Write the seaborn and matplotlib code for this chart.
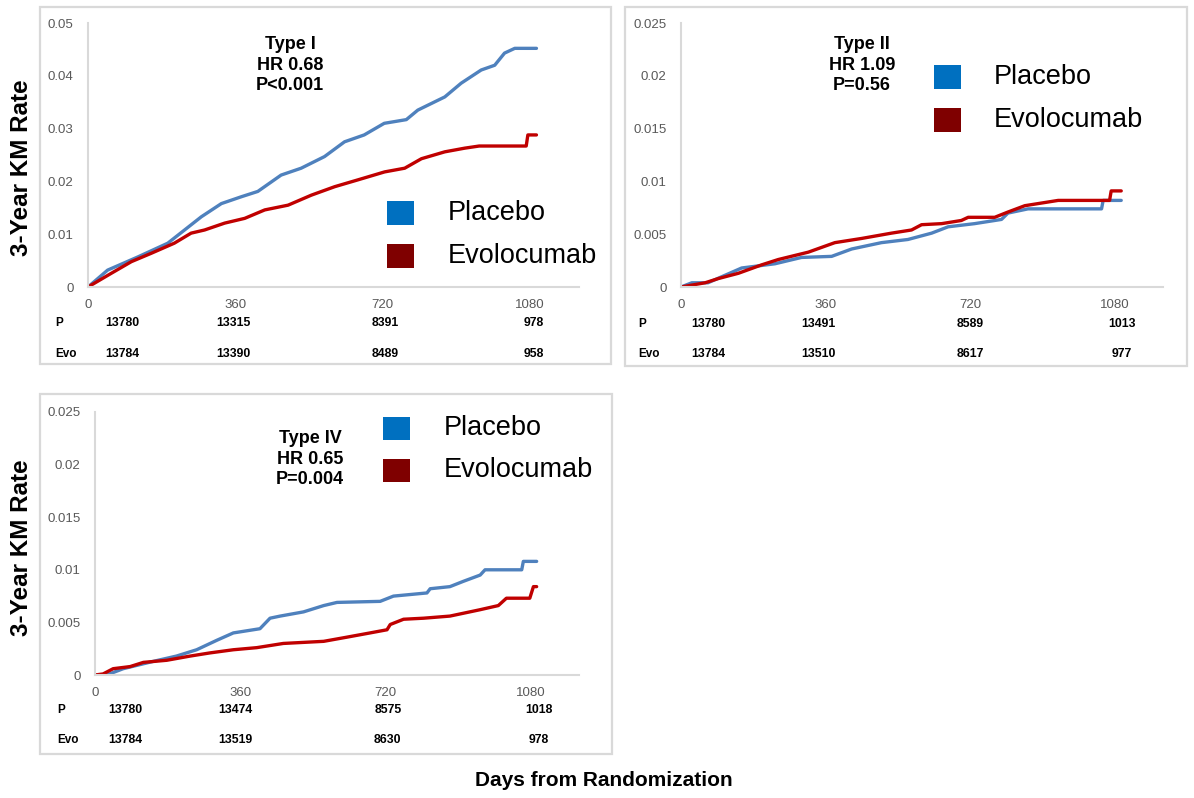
"""Cumulative 3-year KM event rates by MI type, placebo vs evolocumab"""
import matplotlib
matplotlib.use("Agg")
import matplotlib.pyplot as plt
from matplotlib.patches import Rectangle
import pandas as pd
import seaborn as sns

# ---- data ----
arms = ["Placebo", "Evolocumab"]
x_ticks = [0, 360, 720, 1080]

t1_days_pbo = [0, 48, 122, 195, 236, 277, 326, 375, 415, 472, 521, 578, 627, 675,
               724, 778, 806, 872, 912, 961, 994, 1018, 1043, 1096]
t1_rate_pbo = [0, .0032, .0057, .0083, .0108, .0133, .0158, .0171, .0181, .0212,
               .0225, .0247, .0275, .0288, .0310, .0317, .0335, .0360, .0386, .0411,
               .0420, .0443, .0452, .0452]
t1_days_evo = [0, 57, 106, 155, 211, 252, 285, 334, 383, 432, 489, 546, 603, 660,
               725, 774, 815, 872, 921, 956, 1071, 1075, 1096]
t1_rate_evo = [0, .0026, .0048, .0064, .0083, .0102, .0108, .0121, .0130, .0146,
               .0155, .0174, .0190, .0203, .0218, .0225, .0243, .0256, .0263, .0267,
               .0267, .0288, .0288]

t2_days_pbo = [0, 27, 67, 151, 234, 300, 375, 425, 499, 565, 624, 665, 731, 798,
               814, 864, 1047, 1051, 1096]
t2_rate_pbo = [0, .0004, .0004, .0018, .0022, .0028, .0029, .0036, .0042, .0045,
               .0051, .0057, .0060, .0064, .0070, .0074, .0074, .0082, .0082]
t2_days_evo = [0, 60, 93, 143, 201, 242, 317, 383, 450, 524, 574, 599, 649, 698,
               715, 781, 814, 856, 939, 1067, 1071, 1096]
t2_rate_evo = [0, .0004, .0008, .0013, .0021, .0026, .0033, .0042, .0046, .0051,
               .0054, .0059, .0060, .0063, .0066, .0066, .0071, .0077, .0082, .0082,
               .0091, .0091]

t4_days_pbo = [0, 29, 70, 145, 202, 252, 302, 343, 409, 434, 459, 517, 567, 600,
               707, 740, 823, 831, 880, 913, 955, 967, 1058, 1062, 1095]
t4_rate_pbo = [0, 0, .0006, .0013, .0018, .0024, .0033, .0040, .0044, .0054, .0056,
               .0060, .0066, .0069, .0070, .0075, .0078, .0082, .0084, .0089, .0095,
               .0100, .0100, .0108, .0108]
t4_days_evo = [0, 20, 45, 87, 120, 178, 236, 285, 343, 401, 467, 567, 625, 682,
               724, 732, 765, 815, 880, 954, 1000, 1020, 1078, 1087, 1095]
t4_rate_evo = [0, .0001, .0006, .0008, .0012, .0014, .0018, .0021, .0024, .0026,
               .0030, .0032, .0036, .0040, .0043, .0048, .0053, .0054, .0056, .0062,
               .0066, .0073, .0073, .0084, .0084]

t1_risk_pbo = [13780, 13315, 8391, 978]
t1_risk_evo = [13784, 13390, 8489, 958]
t2_risk_pbo = [13780, 13491, 8589, 1013]
t2_risk_evo = [13784, 13510, 8617, 977]
t4_risk_pbo = [13780, 13474, 8575, 1018]
t4_risk_evo = [13784, 13519, 8630, 978]

t1_yticks = [0, 0.01, 0.02, 0.03, 0.04, 0.05]
t1_ylabels = ["0", "0.01", "0.02", "0.03", "0.04", "0.05"]
t24_yticks = [0, 0.005, 0.01, 0.015, 0.02, 0.025]
t24_ylabels = ["0", "0.005", "0.01", "0.015", "0.02", "0.025"]

t1_title = "Type I\nHR 0.68\nP<0.001"
t2_title = "Type II\nHR 1.09\nP=0.56"
t4_title = "Type IV\nHR 0.65\nP=0.004"

LINE_COLORS = {"Placebo": "#4F81BD", "Evolocumab": "#C00000"}
LEGEND_COLORS = {"Placebo": "#0070C0", "Evolocumab": "#7F0000"}

W, H = 1194, 798


def fx(x):
    return x / W


def fy(y):
    return 1 - y / H


def px_axes(fig, left, top, right, bottom):
    return fig.add_axes([fx(left), fy(bottom), (right - left) / W, (bottom - top) / H])


def km_frame(days_pbo, rate_pbo, days_evo, rate_evo):
    a = pd.DataFrame({"day": days_pbo, "rate": rate_pbo, "arm": arms[0]})
    b = pd.DataFrame({"day": days_evo, "rate": rate_evo, "arm": arms[1]})
    return pd.concat([a, b], ignore_index=True)


def draw_panel(fig, box, axbox, df, yticks, ylabels, risk_p, risk_e, risk_x,
               row_x, rows_y, title, title_xy, leg):
    """one boxed KM panel with its at-risk table and square legend"""
    l, t, r, b = box
    fig.add_artist(Rectangle((fx(l), fy(b)), (r - l) / W, (b - t) / H,
                             transform=fig.transFigure, fill=False,
                             edgecolor="#d9d9d9", lw=1.6))
    ax = px_axes(fig, *axbox)
    sns.lineplot(data=df, x="day", y="rate", hue="arm", hue_order=arms,
                 palette=LINE_COLORS, estimator=None, sort=False, lw=2.4,
                 legend=False, ax=ax)
    ax.set_xlim(0, 1200)
    ax.set_ylim(0, yticks[-1])
    ax.set_xticks(x_ticks)
    ax.set_xticklabels([str(v) for v in x_ticks])
    ax.set_yticks(yticks)
    ax.set_yticklabels(ylabels)
    ax.set_xlabel("")
    ax.set_ylabel("")
    for s in ["top", "right"]:
        ax.spines[s].set_visible(False)
    for s in ["left", "bottom"]:
        ax.spines[s].set_color("#d9d9d9")
        ax.spines[s].set_linewidth(1.5)
    ax.tick_params(axis="both", length=0, labelsize=9.5, labelcolor="#595959")
    ax.tick_params(axis="y", pad=10.5)
    ax.tick_params(axis="x", pad=9)
    ax.patch.set_alpha(0)

    # at-risk table
    height = axbox[3] - axbox[1]
    for lab, vals, y in [("P", risk_p, rows_y[0]), ("Evo", risk_e, rows_y[1])]:
        fig.text(fx(row_x), fy(y), lab, ha="left", va="center",
                 fontsize=8.5, weight="bold")
        for xd, v in zip(risk_x, vals):
            ax.text(xd, (axbox[3] - y) / height, str(v),
                    transform=ax.get_xaxis_transform(),
                    ha="center", va="center", fontsize=8.8, weight="bold")

    fig.text(fx(title_xy[0]), fy(title_xy[1]), title, ha="center", va="center",
             fontsize=13, weight="bold", linespacing=1.25)

    sq_x, y_p, y_e, text_x = leg
    for arm, yc in zip(arms, [y_p, y_e]):
        fig.add_artist(Rectangle((fx(sq_x), fy(yc + 11.5)), 27 / W, 23 / H,
                                 transform=fig.transFigure,
                                 facecolor=LEGEND_COLORS[arm], edgecolor="none"))
        fig.text(fx(text_x), fy(yc), arm, ha="left", va="center", fontsize=19.5)
    return ax


sns.set_theme(style="white")
plt.rcParams["font.family"] = ["Liberation Sans", "DejaVu Sans"]
plt.rcParams["text.color"] = "black"

fig = plt.figure(figsize=(W / 100, H / 100), dpi=100)
fig.patch.set_facecolor("white")

draw_panel(fig, (40, 7, 611, 364), (88, 23, 579, 287),
           km_frame(t1_days_pbo, t1_rate_pbo, t1_days_evo, t1_rate_evo),
           t1_yticks, t1_ylabels, t1_risk_pbo, t1_risk_evo,
           [84, 356, 727, 1089], 55, (323, 354), t1_title, (290, 65),
           (387, 213, 256, 448))

draw_panel(fig, (625, 7, 1187, 366), (681, 23, 1163, 287),
           km_frame(t2_days_pbo, t2_rate_pbo, t2_days_evo, t2_rate_evo),
           t24_yticks, t24_ylabels, t2_risk_pbo, t2_risk_evo,
           [69, 341, 720, 1097], 638, (324, 354), t2_title, (862, 65),
           (934, 77, 120, 994))

draw_panel(fig, (40, 394, 612, 754), (95, 412, 579, 675),
           km_frame(t4_days_pbo, t4_rate_pbo, t4_days_evo, t4_rate_evo),
           t24_yticks, t24_ylabels, t4_risk_pbo, t4_risk_evo,
           [76, 349, 726, 1100], 57, (710, 740), t4_title, (310, 459),
           (383, 428, 470, 444))

fig.text(fx(22), fy(168), "3-Year KM Rate", rotation=90, ha="center", va="center",
         fontsize=17.5, weight="bold")
fig.text(fx(22), fy(548), "3-Year KM Rate", rotation=90, ha="center", va="center",
         fontsize=17.5, weight="bold")
fig.text(fx(604), fy(781), "Days from Randomization", ha="center", va="center",
         fontsize=15, weight="bold")

fig.savefig("out.png", dpi=100)
